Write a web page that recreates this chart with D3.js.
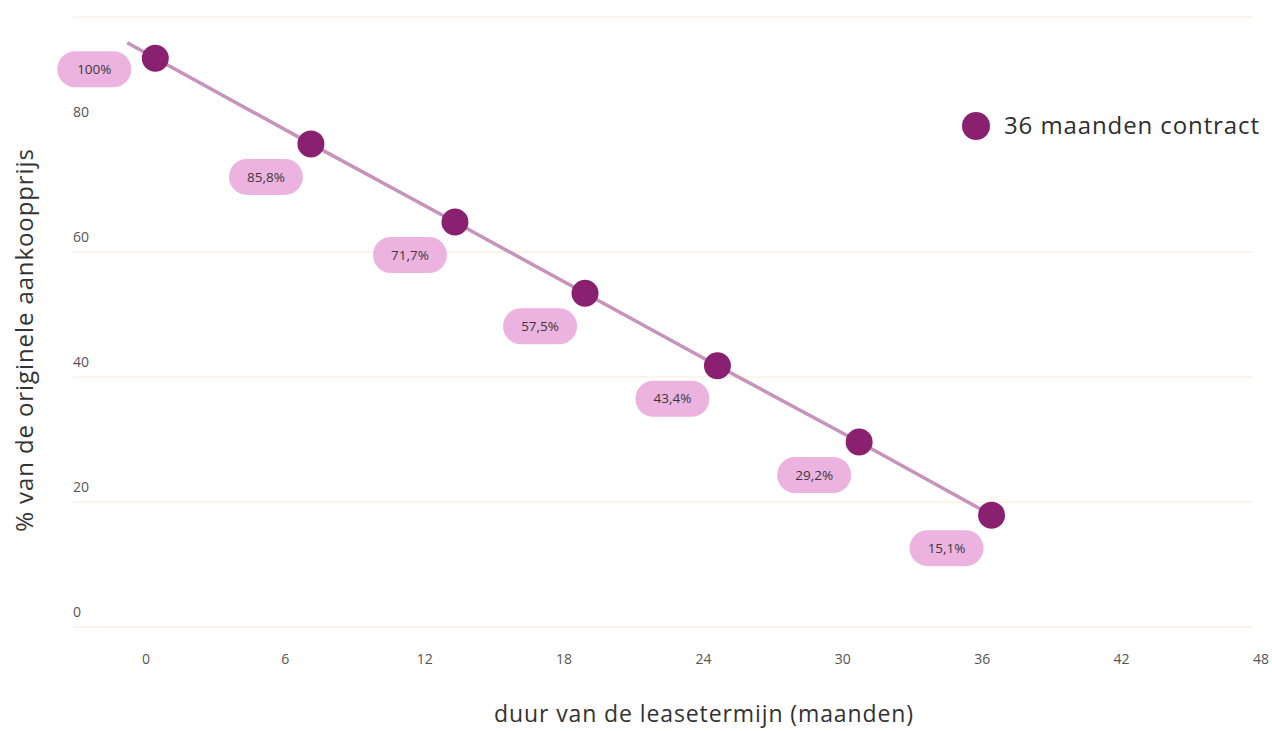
<!DOCTYPE html>
<html>
<head>
<meta charset="utf-8">
<script src="https://cdn.jsdelivr.net/npm/d3@7"></script>
<style>
  html, body { margin: 0; padding: 0; background: #ffffff; }
  svg { display: block; font-family: "Open Sans", "Noto Sans", sans-serif; }
</style>
</head>
<body>
<svg id="chart" width="1272" height="731"></svg>
<script>
// ---- data ----
const months = [0.4, 7.1, 13.3, 18.9, 24.6, 30.7, 36.4];          // x position of each point (months)
const values = [91.0, 77.3, 64.8, 53.4, 41.8, 29.6, 17.9];        // y position of each point (axis units)
const labels = ["100%", "85,8%", "71,7%", "57,5%", "43,4%", "29,2%", "15,1%"];
const xTicks = [0, 6, 12, 18, 24, 30, 36, 42, 48];
const yTicks = [0, 20, 40, 60, 80];
const gridTicks = [0, 20, 40, 60];
const seriesName = "36 maanden contract";
const xTitle = "duur van de leasetermijn (maanden)";
const yTitle = "% van de originele aankoopprijs";

// ---- layout ----
const svg = d3.select("#chart");
const x = d3.scaleLinear().domain([0, 48]).range([146, 1261]);
const y = d3.scaleLinear().domain([0, 97.6]).range([627, 17]);
const gridLeft = 73, gridRight = 1253;

const cPoint = "#8a2170", cLine = "#c792bc", cPill = "#ecb3e0", cGrid = "#fdf0e0";

// gridlines
const grid = svg.append("g");
grid.selectAll("line.g").data(gridTicks.concat([y.domain()[1]])).join("line")
  .attr("x1", gridLeft).attr("x2", gridRight)
  .attr("y1", d => y(d)).attr("y2", d => y(d))
  .attr("stroke", cGrid).attr("stroke-width", 1.5);

// y tick labels (above gridlines)
svg.append("g").selectAll("text").data(yTicks).join("text")
  .attr("x", gridLeft).attr("y", d => y(d) - 10)
  .attr("font-size", 14).attr("fill", "#555")
  .text(d => d);

// x tick labels
svg.append("g").selectAll("text").data(xTicks).join("text")
  .attr("x", d => x(d)).attr("y", 664)
  .attr("text-anchor", "middle")
  .attr("font-size", 14).attr("fill", "#555")
  .text(d => d);

// axis titles
svg.append("text")
  .attr("x", 704).attr("y", 722)
  .attr("text-anchor", "middle").attr("font-size", 23).attr("fill", "#333")
  .attr("letter-spacing", 0.9)
  .text(xTitle);
svg.append("text")
  .attr("transform", "translate(33,340) rotate(-90)")
  .attr("text-anchor", "middle").attr("font-size", 24).attr("fill", "#333")
  .attr("letter-spacing", 0.9)
  .text(yTitle);

// series
const pts = months.map((m, i) => ({ px: x(m), py: y(values[i]), label: labels[i] }));
const first = pts[0], second = pts[1];
const startPt = { px: first.px - (second.px - first.px) * 0.18, py: first.py - (second.py - first.py) * 0.18 };

svg.append("path")
  .attr("d", d3.line().x(d => d.px).y(d => d.py)([startPt].concat(pts)))
  .attr("fill", "none").attr("stroke", cLine).attr("stroke-width", 3.5);

// pills
const pillW = 74, pillH = 36;
const pill = svg.append("g").selectAll("g").data(pts).join("g")
  .attr("transform", (d, i) => {
    const dx = i === 0 ? -61 : -45;
    const dy = i === 0 ? 11 : 33;
    return `translate(${d.px + dx},${d.py + dy})`;
  });
pill.append("rect")
  .attr("x", -pillW / 2).attr("y", -pillH / 2)
  .attr("width", pillW).attr("height", pillH)
  .attr("rx", pillH / 2).attr("fill", cPill);
pill.append("text")
  .attr("text-anchor", "middle").attr("dy", "0.35em")
  .attr("font-size", 13.5).attr("fill", "#3a3a3a")
  .text(d => d.label);

// points
svg.append("g").selectAll("circle").data(pts).join("circle")
  .attr("cx", d => d.px).attr("cy", d => d.py).attr("r", 13.5)
  .attr("fill", cPoint);

// legend
const lg = svg.append("g").attr("transform", "translate(976,126)");
lg.append("circle").attr("r", 14).attr("fill", cPoint);
lg.append("text").attr("x", 28).attr("dy", "0.35em")
  .attr("font-size", 24).attr("fill", "#2e2e2e")
  .attr("letter-spacing", 0.9)
  .text(seriesName);
</script>
</body>
</html>
